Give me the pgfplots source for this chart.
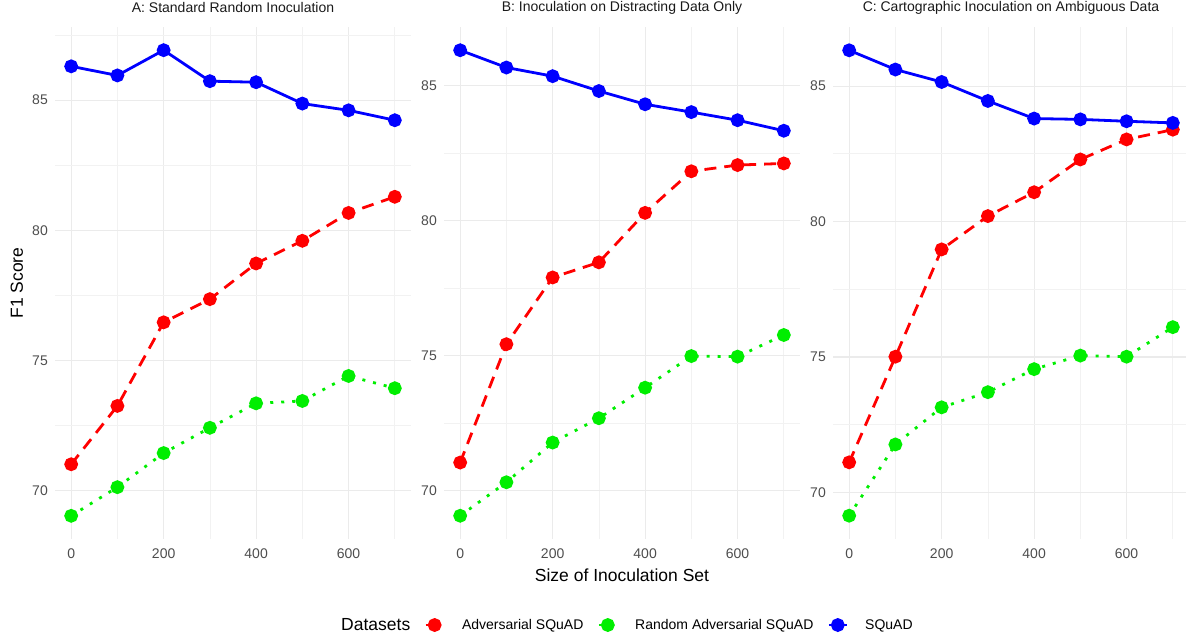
\documentclass[border=0pt]{standalone}
\usepackage{fontspec}
\setmainfont{Liberation Sans}
\usepackage{pgfplots}
\pgfplotsset{compat=1.18}

\definecolor{gridmaj}{HTML}{EBEBEB}
\definecolor{gridmin}{HTML}{F2F2F2}
\definecolor{ticktxt}{HTML}{4D4D4D}
\definecolor{striptxt}{HTML}{1A1A1A}
\definecolor{advred}{HTML}{FF0000}
\definecolor{rndgreen}{HTML}{00EE00}
\definecolor{sqblue}{HTML}{0000FF}

\pgfplotsset{
  panel/.style={
    scale only axis, width=356pt, height=512pt, anchor=south west,
    xmin=-35, xmax=735,
    xtick={0,200,400,600}, minor xtick={100,300,500,700},
    ytick={70,75,80,85}, minor ytick={72.5,77.5,82.5,87.5},
    grid=both,
    major grid style={draw=gridmaj, line width=1.1pt},
    minor grid style={draw=gridmin, line width=0.7pt},
    axis line style={draw=none}, tick style={draw=none},
    /pgf/number format/assume math mode=true,
    ticklabel style={font=\fontsize{14}{16}\selectfont, text=ticktxt, inner sep=0pt},
    yticklabel style={anchor=east, xshift=-7pt},
    xticklabel style={anchor=north, yshift=-10pt},
    title style={at={(axis description cs:0.5,1.0254)}, anchor=center,
      font=\fontsize{14}{16}\selectfont, text=striptxt},
    label style={font=\fontsize{17.5}{20}\selectfont},
    clip=false,
  },
  adv/.style={advred, line width=2.8pt, dash pattern=on 12pt off 8pt,
    mark=*, mark size=5.5pt, mark options={solid}},
  rnd/.style={rndgreen, line width=2.8pt, dash pattern=on 3pt off 8pt,
    mark=*, mark size=5.5pt, mark options={solid}},
  sq/.style={sqblue, line width=2.8pt, solid,
    mark=*, mark size=5.5pt, mark options={solid}},
}

\begin{document}
\begin{tikzpicture}

% A: standard random inoculation
\begin{axis}[panel, at={(55pt,96pt)}, ymin=68.15, ymax=87.81,
  title={A: Standard Random Inoculation},
  ylabel={F1 Score},
  ylabel style={at={(axis description cs:-0.107,0.5)}, anchor=center}]
\addplot[adv] coordinates {(0,71.02) (100,73.26) (200,76.47) (300,77.36) (400,78.73) (500,79.60) (600,80.67) (700,81.29)};
\addplot[rnd] coordinates {(0,69.04) (100,70.14) (200,71.45) (300,72.42) (400,73.36) (500,73.45) (600,74.41) (700,73.94)};
\addplot[sq] coordinates {(0,86.30) (100,85.95) (200,86.92) (300,85.73) (400,85.69) (500,84.87) (600,84.61) (700,84.23)};
\end{axis}

% B: distracting data only
\begin{axis}[panel, at={(444pt,96pt)}, ymin=68.22, ymax=87.17,
  title={B: Inoculation on Distracting Data Only},
  xlabel={Size of Inoculation Set},
  xlabel style={at={(axis description cs:0.5,-0.0703)}, anchor=center},
  legend columns=-1,
  legend style={at={(axis description cs:0.49,-0.168)}, anchor=center,
    draw=none, fill=none, font=\fontsize{14}{16}\selectfont,
    nodes={inner sep=0pt},
    /tikz/every odd column/.append style={column sep=17pt},
    /tikz/every even column/.append style={column sep=14pt}},
  legend image code/.code={\draw[mark repeat=2, mark phase=2]
    plot coordinates {(0pt,0pt) (9pt,0pt) (18pt,0pt)};}]
\addlegendimage{empty legend}
\addlegendentry[font=\fontsize{17.5}{20}\selectfont]{Datasets}
\addplot[adv] coordinates {(0,71.05) (100,75.43) (200,77.90) (300,78.46) (400,80.29) (500,81.83) (600,82.06) (700,82.12)};
\addlegendentry{Adversarial SQuAD}
\addplot[rnd] coordinates {(0,69.08) (100,70.32) (200,71.79) (300,72.69) (400,73.82) (500,74.99) (600,74.97) (700,75.77)};
\addlegendentry{Random Adversarial SQuAD}
\addplot[sq] coordinates {(0,86.31) (100,85.67) (200,85.35) (300,84.80) (400,84.31) (500,84.02) (600,83.72) (700,83.33)};
\addlegendentry{SQuAD}
\end{axis}

% C: cartographic inoculation
\begin{axis}[panel, at={(833pt,96pt)}, ymin=68.28, ymax=87.18,
  title={C: Cartographic Inoculation on Ambiguous Data}]
\addplot[adv] coordinates {(0,71.11) (100,75.01) (200,78.97) (300,80.20) (400,81.08) (500,82.29) (600,83.03) (700,83.39)};
\addplot[rnd] coordinates {(0,69.14) (100,71.77) (200,73.14) (300,73.70) (400,74.55) (500,75.05) (600,75.01) (700,76.10)};
\addplot[sq] coordinates {(0,86.32) (100,85.61) (200,85.15) (300,84.45) (400,83.80) (500,83.77) (600,83.70) (700,83.64)};
\end{axis}

\pgfresetboundingbox
\path[use as bounding box] (0pt,0pt) rectangle (1186pt,635pt);
\end{tikzpicture}
\end{document}
